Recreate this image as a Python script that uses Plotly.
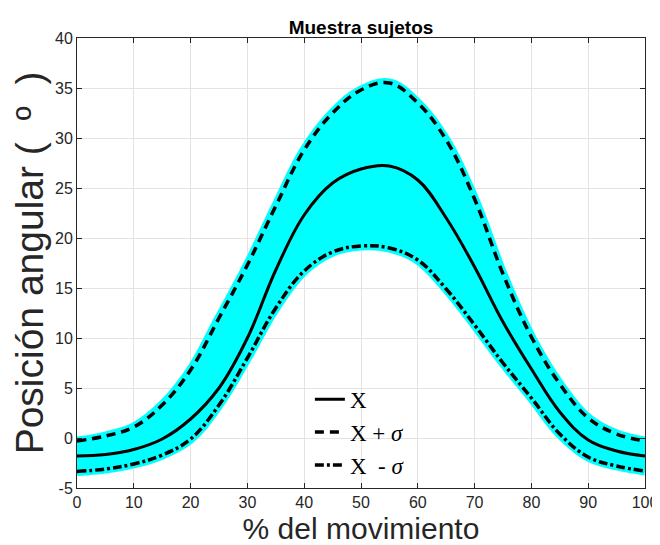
import plotly.graph_objects as go

# Data
pct = [0, 5, 10, 15, 20, 25, 30, 35, 40, 45, 50, 55, 60, 65, 70, 75, 80, 85, 90, 95, 100]
mean_x = [-1.8, -1.65, -1.15, -0.1, 1.9, 5.0, 10.0, 16.8, 22.3, 25.5, 26.9, 27.2, 25.8,
          22.0, 17.1, 11.6, 6.9, 2.6, -0.2, -1.3, -1.8]
upper_x = [-0.3, 0.2, 1.1, 3.3, 6.8, 12.0, 17.3, 23.2, 28.8, 32.5, 34.8, 35.5, 33.5,
           29.8, 23.9, 16.4, 10.1, 5.4, 2.0, 0.4, -0.3]
lower_x = [-3.35, -3.1, -2.6, -1.7, -0.1, 3.3, 8.0, 13.0, 16.7, 18.6, 19.2, 19.0, 17.8,
           14.9, 11.3, 7.5, 4.0, 0.4, -1.9, -2.8, -3.3]

x_ticks = list(range(0, 101, 10))
y_ticks = list(range(-5, 41, 5))

names = ["X", "X + <i>σ</i>", "X\u00a0 - <i>σ</i>"]

CYAN = "#00FFFF"
AX = "#262626"
SANS = "Liberation Sans, Arial, sans-serif"

fig = go.Figure()

# shaded band (lower edge then upper edge filled to it)
fig.add_trace(go.Scatter(x=pct, y=lower_x, mode="lines",
                         line=dict(color=CYAN, width=9, shape="spline", smoothing=1.1),
                         showlegend=False, hoverinfo="skip"))
fig.add_trace(go.Scatter(x=pct, y=upper_x, mode="lines", fill="tonexty", fillcolor=CYAN,
                         line=dict(color=CYAN, width=9, shape="spline", smoothing=1.1),
                         showlegend=False, hoverinfo="skip"))

fig.add_trace(go.Scatter(x=pct, y=mean_x, mode="lines", name=names[0],
                         line=dict(color="black", width=3, shape="spline", smoothing=1.1)))
fig.add_trace(go.Scatter(x=pct, y=upper_x, mode="lines", name=names[1],
                         line=dict(color="black", width=3.5, dash="9px,6px", shape="spline", smoothing=1.1)))
fig.add_trace(go.Scatter(x=pct, y=lower_x, mode="lines", name=names[2],
                         line=dict(color="black", width=3.5, dash="9px,3px,3px,3px", shape="spline",
                                   smoothing=1.1)))

axis_common = dict(
    showgrid=True, gridcolor="#e3e3e3", gridwidth=1,
    showline=True, linecolor=AX, linewidth=1, mirror="ticks",
    ticks="inside", ticklen=5, tickcolor=AX, tickwidth=1,
    zeroline=False, automargin=False, ticklabeloverflow="allow",
    tickfont=dict(family=SANS, size=16, color=AX),
)

fig.update_xaxes(range=[0, 100], tickvals=x_ticks, ticktext=[str(v) for v in x_ticks],
                 title=dict(text="% del movimiento", standoff=8,
                            font=dict(family=SANS, size=30, color=AX)),
                 **axis_common)
fig.update_yaxes(range=[-5, 40], tickvals=y_ticks, ticktext=[str(v) for v in y_ticks],
                 title=dict(text="Posición angular (\u00a0\u00a0º\u00a0\u00a0)", standoff=3,
                            font=dict(family=SANS, size=39, color=AX)),
                 **axis_common)

# page has an 8px body margin, so the figure is 652x537 and offsets are reduced by 8px
fig.update_layout(
    width=652, height=537,
    margin=dict(l=69, r=15, t=30, b=57),
    paper_bgcolor="white", plot_bgcolor="white",
    title=dict(text="<b>Muestra sujetos</b>", x=0.5, xref="paper", xanchor="center",
               y=1, yref="paper", yanchor="bottom", pad=dict(b=4),
               font=dict(family=SANS, size=19, color="black")),
    legend=dict(x=0.41, y=0.245, xanchor="left", yanchor="top", traceorder="normal",
                bgcolor="rgba(0,0,0,0)", borderwidth=0,
                font=dict(family="Liberation Serif, Times New Roman, serif", size=23, color="black"),
                tracegroupgap=0, itemwidth=30),
    showlegend=True,
)

fig.write_html("out.html")
